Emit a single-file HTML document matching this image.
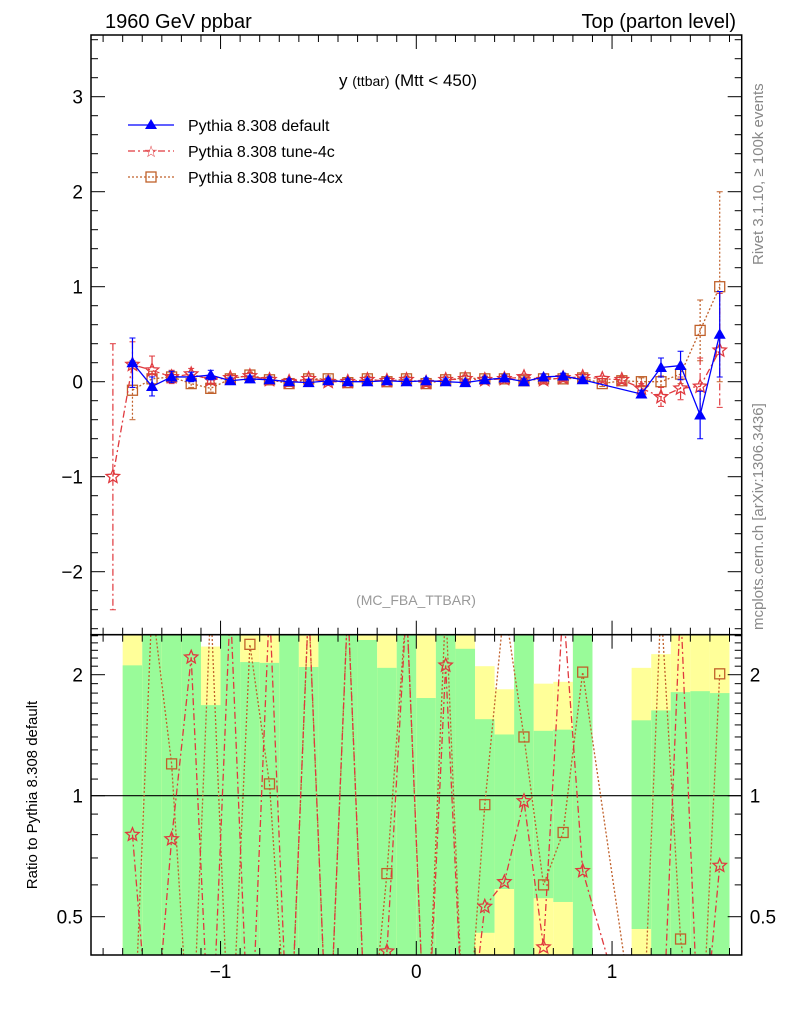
<!DOCTYPE html>
<html><head><meta charset="utf-8">
<style>
html,body{margin:0;padding:0;background:#fff;width:786px;height:1024px;overflow:hidden;}
svg{display:block;font-family:"Liberation Sans",sans-serif;}
</style></head>
<body>
<svg id="c" width="786" height="1024" viewBox="0 0 786 1024" xmlns="http://www.w3.org/2000/svg">
<text x="105" y="28" font-size="20">1960 GeV ppbar</text>
<text x="736" y="28" font-size="20" text-anchor="end">Top (parton level)</text>
<text x="408" y="86" font-size="17" text-anchor="middle">y <tspan font-size="14">(ttbar)</tspan> (Mtt &lt; 450)</text>
<text x="416" y="605" font-size="14" fill="#999" text-anchor="middle">(MC_FBA_TTBAR)</text>
<text transform="translate(763,265) rotate(-90)" font-size="15" fill="#888">Rivet 3.1.10, ≥ 100k events</text>
<text transform="translate(763,630) rotate(-90)" font-size="15" fill="#888">mcplots.cern.ch [arXiv:1306.3436]</text>
<text transform="translate(37,795) rotate(-90)" font-size="15" text-anchor="middle">Ratio to Pythia 8.308 default</text>
<g id="legend">
<g><line x1="128" y1="125" x2="174" y2="125" stroke="#0000ff" stroke-width="1.3"/><path d="M151,119 L157,129 L145,129Z" fill="#0000ff"/><text x="188" y="131" font-size="16">Pythia 8.308 default</text></g>
<g><line x1="128" y1="151" x2="174" y2="151" stroke="#e0393e" stroke-width="1.3" stroke-dasharray="7,3,2,3"/><text x="151" y="157" font-size="16" fill="#e0393e" text-anchor="middle">☆</text><text x="188" y="157" font-size="16">Pythia 8.308 tune-4c</text></g>
<g><line x1="128" y1="177" x2="174" y2="177" stroke="#c0602a" stroke-width="1.3" stroke-dasharray="2,2"/><rect x="146" y="172" width="10" height="10" fill="none" stroke="#c0602a" stroke-width="1.3"/><text x="188" y="183" font-size="16">Pythia 8.308 tune-4cx</text></g>
</g>
<g id="main"></g>
<g id="ratio"></g>
<g id="axes"></g>
</svg>
<script>
const centers=[];for(let i=0;i<32;i++)centers.push(+(-1.55+0.1*i).toFixed(2));
const defaultVals=[null,.2,-.05,.05,.05,.07,.01,.03,.02,0,-.01,.01,0,0,.01,0,.01,0,-.01,.02,.04,0,.05,.06,.02,null,null,-.13,.15,.17,-.35,.5];
const defaultErr=[0,.26,.1,.06,.05,.05,.03,.03,.03,.03,.03,.03,.03,.03,.03,.03,.03,.03,.03,.03,.03,.03,.03,.03,.03,0,0,.04,.1,.15,.25,.45];
const tune4cVals=[-1.0,.18,.12,.05,.08,.02,.04,.06,.02,0,.03,0,0,.02,.01,.02,-.01,.02,.03,.02,.03,.05,.02,.04,.05,.03,.02,-.07,-.16,-.07,-.05,.33];
const tune4cErr=[1.4,.24,.15,.07,.06,.04,.03,.03,.03,.03,.03,.03,.03,.03,.03,.03,.03,.03,.03,.03,.03,.03,.03,.03,.03,.03,.03,.05,.1,.12,.3,.6];
const tune4cxVals=[null,-.09,.03,.05,-.02,-.07,.03,.07,.02,-.02,.03,.03,-.01,.03,0,.03,-.02,.02,.04,.03,.03,.01,.03,.03,.04,-.02,.01,0,0,.08,.54,1.0];
const tune4cxErr=[0,.31,.08,.05,.04,.04,.03,.03,.03,.03,.03,.03,.03,.03,.03,.03,.03,.03,.03,.03,.03,.03,.03,.03,.03,.03,.03,.04,.06,.1,.32,1.0];
const ratio4c=[null,.80,.2,.78,2.21,.2,3,.2,3,.2,3,.2,3,.2,.41,3,.2,2.11,.2,.53,.61,.97,.42,3,.65,null,null,.2,.2,3,.2,.67];
const ratio4cx=[null,.2,3,1.20,.2,3,.2,2.38,1.07,.2,3,.2,3,.2,.64,3,.2,3,.2,.95,3,1.40,.60,.81,2.03,null,null,.2,3,.44,.2,2.01];
const bandGreenHi=[null,2.11,3,3,2.9,1.68,3,2.15,2.14,3,2.09,3,3,2.44,2.08,3,1.75,3,2.32,1.55,1.42,3,1.45,1.46,3,null,null,1.54,1.63,1.81,1.82,1.80];
const bandYellowHi=[null,3,3,3,3,2.35,3,3,3,3,3,3,3,3,3,3,3,3,3,2.10,1.84,3,1.90,1.92,3,null,null,2.08,2.25,3,3,3];
const bandGreenLo=[null,.3,.3,.3,.3,.3,.3,.3,.3,.3,.3,.3,.3,.3,.3,.3,.3,.3,.3,.456,.586,.3,.556,.544,.3,null,null,.466,.3,.3,.3,.3];
const NS="http://www.w3.org/2000/svg";
const L=91,R=741.7,X0=416.3,XS=195.75;
const MT=35,MB=634.7,Y0=381.7,YS=95;
const RT=634.7,RB=955,R1=795.7,RS=121;
const x=v=>X0+XS*v;
const ym=v=>Y0-YS*v;
const yr=v=>R1-RS*Math.log2(Math.max(v,0.05));
function mk(tag,attrs,parent){const e=document.createElementNS(NS,tag);for(const k in attrs)e.setAttribute(k,attrs[k]);parent.appendChild(e);return e;}
const svg=document.getElementById('c');
const defs=mk('defs',{},svg);
const cp1=mk('clipPath',{id:'cm'},defs);mk('rect',{x:L,y:MT,width:R-L,height:MB-MT},cp1);
const cp2=mk('clipPath',{id:'cr'},defs);mk('rect',{x:L,y:RT,width:R-L,height:RB-RT},cp2);
const gm=document.getElementById('main');gm.setAttribute('clip-path','url(#cm)');
const gr=document.getElementById('ratio');gr.setAttribute('clip-path','url(#cr)');
for(let i=0;i<32;i++){
 if(bandGreenHi[i]==null)continue;
 const x1=x(centers[i]-0.05),x2=x(centers[i]+0.05);
 const yb=mk('rect',{x:x1,y:yr(bandYellowHi[i]),width:x2-x1,height:yr(0.3)-yr(bandYellowHi[i]),fill:'#ffff99'},gr);
 
 
 const gb=mk('rect',{x:x1,y:yr(bandGreenHi[i]),width:x2-x1,height:yr(bandGreenLo[i])-yr(bandGreenHi[i]),fill:'#99fb99'},gr);
 
 
}
const ref=mk('line',{x1:L,x2:R,y1:yr(1),y2:yr(1),stroke:'#000','stroke-width':1.2},gr);


function star(cx,cy,r,col,g){let p='';for(let k=0;k<10;k++){const a=-Math.PI/2+k*Math.PI/5,rr=k%2?r*0.45:r;p+=(k?'L':'M')+(cx+rr*Math.cos(a)).toFixed(1)+','+(cy+rr*Math.sin(a)).toFixed(1);}return mk('path',{d:p+'Z',fill:'none',stroke:col,'stroke-width':1.3},g);}
function series(vals,errs,yf,col,dash,marker,g,name){
 const sg=mk('g',{},g);
 
 
 const pts=[];vals.forEach((v,i)=>{if(v!=null)pts.push([x(centers[i]),yf(v)]);});
 const pl=mk('polyline',{points:pts.map(p=>p.join(',')).join(' '),fill:'none',stroke:col,'stroke-width':1.3},sg);
 if(dash)pl.setAttribute('stroke-dasharray',dash);
 vals.forEach((v,i)=>{
  if(v==null)return;
  const cx=x(centers[i]),cy=yf(v);
  if(errs){const e=errs[i];if(e>0){const el=mk('line',{x1:cx,x2:cx,y1:yf(v+e),y2:yf(v-e),stroke:col,'stroke-width':1.2},sg);if(dash)el.setAttribute('stroke-dasharray',dash);mk('line',{x1:cx-3,x2:cx+3,y1:yf(v+e),y2:yf(v+e),stroke:col},sg);mk('line',{x1:cx-3,x2:cx+3,y1:yf(v-e),y2:yf(v-e),stroke:col},sg);}}
  if(marker==='tri')mk('path',{d:`M${cx},${cy-6}L${cx+6},${cy+4.5}L${cx-6},${cy+4.5}Z`,fill:col},sg);
  else if(marker==='star')star(cx,cy,7,col,sg);
  else mk('rect',{x:cx-5,y:cy-5,width:10,height:10,fill:'none',stroke:col,'stroke-width':1.3},sg);
 });
}
series(tune4cxVals,tune4cxErr,ym,'#c0602a','2,2','sq',gm,'series-tune-4cx');
series(tune4cVals,tune4cErr,ym,'#e0393e','7,3,2,3','star',gm,'series-tune-4c');
series(defaultVals,defaultErr,ym,'#0000ff',null,'tri',gm,'series-default');
series(ratio4cx,null,yr,'#c0602a','2,2','sq',gr,'ratio-tune-4cx');
series(ratio4c,null,yr,'#e0393e','7,3,2,3','star',gr,'ratio-tune-4c');
const ga=document.getElementById('axes');
for(const [t,b] of [[MT,MB],[RT,RB]]){const fr=mk('rect',{x:L,y:t,width:R-L,height:b-t,fill:'none',stroke:'#000','stroke-width':1.5},ga);}
for(let k=-16;k<=16;k++){const v=k/10,px=x(v),maj=k%10===0,len=maj?14:7;
 for(const [t,b] of [[MT,MB],[RT,RB]]){mk('line',{x1:px,x2:px,y1:t,y2:t+len,stroke:'#000'},ga);mk('line',{x1:px,x2:px,y1:b,y2:b-len,stroke:'#000'},ga);}
 if(maj){const tl=mk('text',{x:px,y:978,'font-size':19,'text-anchor':'middle'},ga);tl.textContent=(v<0?'−':'')+Math.abs(v);}}
for(let k=-13;k<=18;k++){const v=k/5,py=ym(v);if(py<MT||py>MB)continue;const maj=k%5===0,len=maj?14:7;
 mk('line',{x1:L,x2:L+len,y1:py,y2:py,stroke:'#000'},ga);mk('line',{x1:R,x2:R-len,y1:py,y2:py,stroke:'#000'},ga);
 if(maj){const tl=mk('text',{x:L-8,y:py+7,'font-size':19,'text-anchor':'end'},ga);tl.textContent=(v<0?'−':'')+Math.abs(v);}}
const rticks=[0.4,0.5,0.6,0.7,0.8,0.9,1,1.1,1.2,1.3,1.4,1.5,1.6,1.7,1.8,1.9,2,2.1,2.2,2.3,2.4,2.5];
rticks.forEach(v=>{const py=yr(v);if(py<RT||py>RB)return;const maj=(v===0.5||v===1||v===2),len=maj?14:7;
 mk('line',{x1:L,x2:L+len,y1:py,y2:py,stroke:'#000'},ga);mk('line',{x1:R,x2:R-len,y1:py,y2:py,stroke:'#000'},ga);
 if(maj){for(const [xx,an] of [[L-8,'end'],[R+8,'start']]){const tl=mk('text',{x:xx,y:py+7,'font-size':19,'text-anchor':an},ga);tl.textContent=String(v);}}});
</script>
</body></html>
